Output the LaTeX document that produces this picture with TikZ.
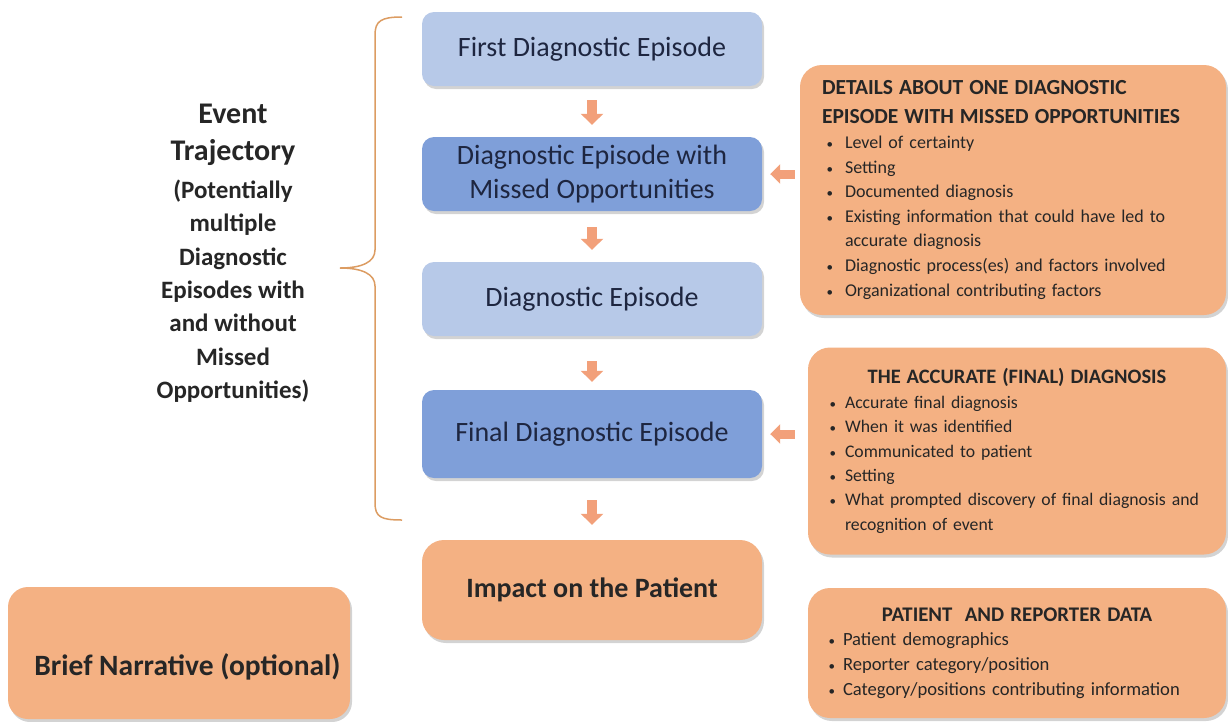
\documentclass[tikz,border=0pt]{standalone}
\usepackage{fontspec}
\setmainfont{Carlito}
\usepackage{enumitem}
\usetikzlibrary{arrows.meta,shadows}

\definecolor{lightblue}{HTML}{B7C9E8}
\definecolor{midblue}{HTML}{7F9FD9}
\definecolor{peach}{HTML}{F4B183}
\definecolor{arrowpeach}{HTML}{F2A07A}
\definecolor{bracecol}{HTML}{DC9C62}
\definecolor{navytext}{HTML}{1E2640}
\definecolor{darktext}{HTML}{262626}

\setlist[itemize]{label={\fontsize{13}{13}\selectfont\textbullet}, topsep=0pt, itemsep=0pt, parsep=0pt, partopsep=0pt}

\tikzset{
  episode/.style={rounded corners=12pt, minimum width=340pt, minimum height=74pt,
    text=navytext, align=center, font=\fontsize{28}{34}\selectfont,
    drop shadow={shadow xshift=2pt, shadow yshift=-3pt, opacity=0.35}},
  lightep/.style={episode, fill=lightblue},
  darkep/.style={episode, fill=midblue},
  orangebox/.style={rounded corners=22pt, fill=peach, text=darktext,
    drop shadow={shadow xshift=2pt, shadow yshift=-3pt, opacity=0.35}},
  infobox/.style={orangebox, align=left, font=\fontsize{18}{24.6}\selectfont},
  fatarrow/.style={draw=arrowpeach, line width=10pt, -{Triangle[width=22pt,length=11pt]}},
  sidearrow/.style={draw=arrowpeach, line width=9pt, -{Triangle[width=19pt,length=10pt]}},
  brace/.style={draw=bracecol, line width=1.5pt}
}

\begin{document}
\begin{tikzpicture}[x=1pt, y=-1pt]
  \useasboundingbox (0,0) rectangle (1228,721);

  % trajectory column
  \node[lightep] (first) at (592,49) {First Diagnostic Episode};
  \node[darkep] (missed) at (592,174) {Diagnostic Episode with\\Missed Opportunities};
  \node[lightep] (episode) at (592,299) {Diagnostic Episode};
  \node[darkep, minimum height=88pt] (final) at (592,434) {Final Diagnostic Episode};
  \node[orangebox, minimum width=340pt, minimum height=100pt,
    font=\fontsize{28}{30}\selectfont\bfseries] (impact) at (592,590) {Impact on the Patient};

  \draw[fatarrow, shorten <=14pt, shorten >=12pt] (first) -- (missed);
  \draw[fatarrow, shorten <=16pt, shorten >=12pt] (missed) -- (episode);
  \draw[fatarrow, shorten <=25pt, shorten >=8pt] (episode) -- (final);
  \draw[fatarrow, shorten <=22pt, shorten >=15pt] (final) -- (impact);

  % left side
  \node[align=center, text=darktext, font=\fontsize{25}{33.3}\selectfont\bfseries] (trajectory) at (233,253)
    {{\fontsize{30}{33}\selectfont Event}\\[4pt]{\fontsize{30}{33}\selectfont Trajectory}\\[5pt](Potentially\\multiple\\Diagnostic\\Episodes with\\and without\\Missed\\Opportunities)};
  \draw[brace] (402,17) .. controls (381,17) and (375,21) .. (375,35) -- (375,250)
    .. controls (375,262) and (362,268) .. (340,268)
    .. controls (362,268) and (375,274) .. (375,286) -- (375,503)
    .. controls (375,517) and (381,520) .. (402,520);

  \node[orangebox, rounded corners=20pt, minimum width=342pt, minimum height=132pt,
    font=\fontsize{29.5}{30}\selectfont\bfseries] (narrative) at (179,653)
    {\raisebox{-22pt}[0pt][0pt]{\makebox[0pt]{\hspace{17pt}Brief Narrative (optional)}}};

  % detail boxes
  \node[infobox, text width=382pt, inner xsep=22pt, minimum height=250pt] (details) at (1013,190)
    {{\fontsize{21.5}{29}\selectfont\bfseries DETAILS ABOUT ONE DIAGNOSTIC\\EPISODE WITH MISSED OPPORTUNITIES\par}
     \begin{itemize}[leftmargin=23pt, labelsep=12pt]
       \item Level of certainty
       \item Setting
       \item Documented diagnosis
       \item Existing information that could have led to accurate diagnosis
       \item Diagnostic process(es) and factors involved
       \item Organizational contributing factors
     \end{itemize}};
  \node[infobox, text width=376pt, inner xsep=21pt, minimum height=207pt,
    font=\fontsize{17.7}{24.4}\selectfont] (accurate) at (1017,451)
    {{\centering\fontsize{20.5}{26}\selectfont\bfseries THE ACCURATE (FINAL) DIAGNOSIS\par}
     \begin{itemize}[leftmargin=16pt, labelsep=9pt]
       \item Accurate final diagnosis
       \item When it was identified
       \item Communicated to patient
       \item Setting
       \item What prompted discovery of final diagnosis and recognition of event
     \end{itemize}};
  \node[infobox, text width=376pt, inner xsep=21pt, minimum height=130pt,
    font=\fontsize{18.6}{24.6}\selectfont] (reporter) at (1017,653)
    {{\centering\fontsize{20.8}{26}\selectfont\bfseries PATIENT\ \ AND REPORTER DATA\par}
     \begin{itemize}[leftmargin=14pt, labelsep=8pt]
       \item Patient demographics
       \item Reporter category/position
       \item Category/positions contributing information
     \end{itemize}};

  \draw[sidearrow, shorten <=5pt, shorten >=8pt] (details.west |- missed.east) -- (missed.east);
  \draw[sidearrow, shorten <=13pt, shorten >=8pt] (accurate.west |- final.east) -- (final.east);
\end{tikzpicture}
\end{document}
